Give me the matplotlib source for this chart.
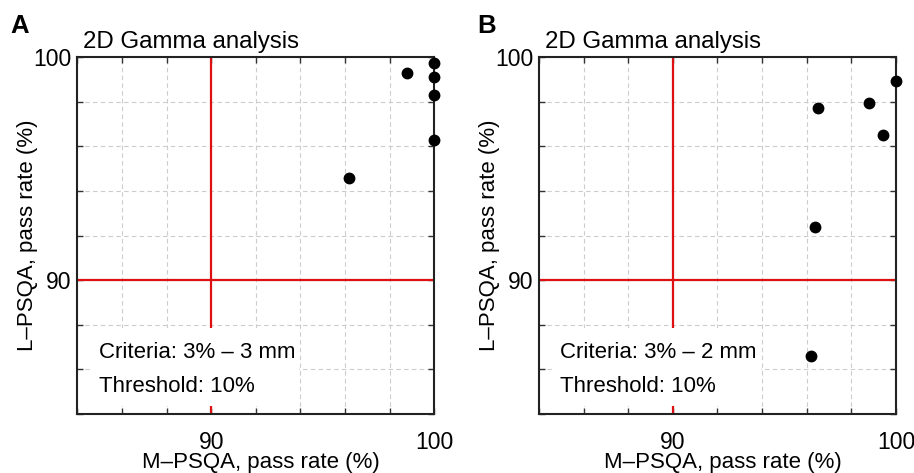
import matplotlib
matplotlib.use("Agg")
import matplotlib.pyplot as plt
from matplotlib.patches import Rectangle
from matplotlib.ticker import MultipleLocator

plt.rcParams['font.family'] = ['Liberation Sans', 'DejaVu Sans']

# Data
panels = ["A", "B"]
titles = ["2D Gamma analysis", "2D Gamma analysis"]
criteria = ["Criteria: 3% \u2013 3 mm", "Criteria: 3% \u2013 2 mm"]
threshold_text = "Threshold: 10%"
a_mpsqa = [100.0, 98.78, 100.0, 100.0, 100.0, 96.18]
a_lpsqa = [99.73, 99.31, 99.10, 98.30, 96.29, 94.60]
b_mpsqa = [100.0, 98.78, 96.51, 99.42, 96.39, 96.20]
b_lpsqa = [98.94, 97.94, 97.74, 96.53, 92.40, 86.59]
tol_x = 90
tol_y = 90
axis_min, axis_max = 84, 100
xlabel = "M\u2013PSQA, pass rate (%)"
ylabel = "L\u2013PSQA, pass rate (%)"

FS = 16.0
FS_TITLE = 17.3
fig = plt.figure(figsize=(9.14, 4.73), dpi=100)
lefts = [0.0846, 0.5897]
W, B, H = 0.3906, 0.1247, 0.7541
label_x = [0.011, 0.5226]

for i, (xs, ys) in enumerate([(a_mpsqa, a_lpsqa), (b_mpsqa, b_lpsqa)]):
    ax = fig.add_axes([lefts[i], B, W, H])
    ax.set_xlim(axis_min, axis_max)
    ax.set_ylim(axis_min, axis_max)
    ax.xaxis.set_major_locator(MultipleLocator(10))
    ax.yaxis.set_major_locator(MultipleLocator(10))
    ax.xaxis.set_minor_locator(MultipleLocator(2))
    ax.yaxis.set_minor_locator(MultipleLocator(2))
    ax.grid(True, which='both', color='#cccccc', linestyle=(0, (4, 3)), linewidth=0.8, zorder=0)
    ax.set_axisbelow(True)
    ax.tick_params(which='both', direction='in', top=True, right=True, length=4, width=1, color='#333333')
    ax.tick_params(axis='x', labelsize=16.5, pad=12)
    ax.tick_params(axis='y', labelsize=16.5, pad=4)
    for s in ax.spines.values():
        s.set_linewidth(1.5)
        s.set_color('#222222')
    ax.axvline(tol_x, color='#dd1111', lw=1.6, zorder=2)
    ax.axhline(tol_y, color='#dd1111', lw=1.6, zorder=2)
    ax.add_patch(Rectangle((0.0357, 0.0225), 0.585, 0.2187, transform=ax.transAxes,
                           facecolor='white', edgecolor='none', zorder=3))
    ax.text(0.060, 0.157, criteria[i], transform=ax.transAxes, fontsize=FS, va='baseline', ha='left', zorder=4)
    ax.text(0.060, 0.0616, threshold_text, transform=ax.transAxes, fontsize=FS, va='baseline', ha='left', zorder=4)
    ax.plot(xs, ys, 'o', color='black', ms=7.5, zorder=5, clip_on=False)
    ax.text(0.016, 1.025, titles[i], transform=ax.transAxes, fontsize=FS_TITLE, va='baseline', ha='left')
    ax.text(0.5146, -0.152, xlabel, transform=ax.transAxes, fontsize=FS, va='baseline', ha='center')
    ax.text(-0.139, 0.5, ylabel, transform=ax.transAxes, fontsize=FS, va='center', ha='center', rotation=90)
    fig.text(label_x[i], 0.930, panels[i], fontsize=18.5, fontweight='bold', va='baseline', ha='left')

fig.savefig("out.png", dpi=100)
